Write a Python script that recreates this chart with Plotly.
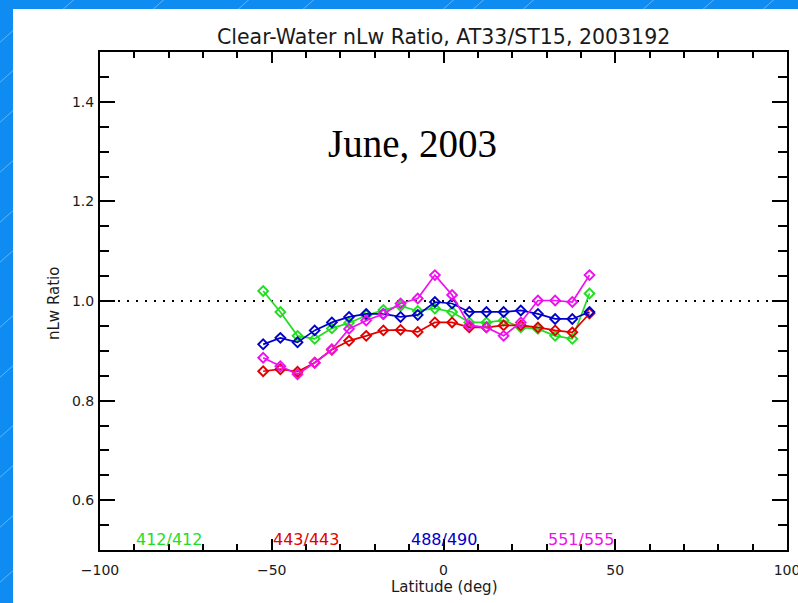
import plotly.graph_objects as go

# ---- data -------------------------------------------------------------
latitude = [-52.5, -47.5, -42.5, -37.5, -32.5, -27.5, -22.5, -17.5, -12.5, -7.5,
            -2.5, 2.5, 7.5, 12.5, 17.5, 22.5, 27.5, 32.5, 37.5, 42.5]

ratio_412 = [1.020, 0.978, 0.930, 0.924, 0.945, 0.956, 0.971, 0.982, 0.990, 0.980,
             0.985, 0.978, 0.957, 0.957, 0.961, 0.947, 0.944, 0.930, 0.924, 1.015]
ratio_443 = [0.859, 0.863, 0.858, 0.876, 0.902, 0.920, 0.930, 0.941, 0.942, 0.938,
             0.957, 0.957, 0.947, 0.947, 0.951, 0.951, 0.947, 0.941, 0.937, 0.975]
ratio_488 = [0.913, 0.926, 0.917, 0.941, 0.957, 0.968, 0.974, 0.974, 0.968, 0.972,
             0.998, 0.995, 0.978, 0.978, 0.978, 0.981, 0.974, 0.964, 0.964, 0.978]
ratio_551 = [0.886, 0.869, 0.853, 0.876, 0.903, 0.944, 0.961, 0.974, 0.995, 1.005,
             1.052, 1.012, 0.951, 0.947, 0.930, 0.957, 1.001, 1.001, 0.998, 1.052]

band_labels = ["412/412", "443/443", "488/490", "551/555"]
band_colors = ["#22dd22", "#e00000", "#0000c8", "#ee11ee"]
label_lat = [-80, -40, 0, 40]
label_ratio = 0.522

x_range = [-100, 100]
y_range = [0.5, 1.5]
reference_ratio = 1.0

title_text = "Clear-Water nLw Ratio, AT33/ST15, 2003192"
note_text = "June, 2003"
note_pos = (-9, 1.316)

# ---- page geometry (pixels) ------------------------------------------
W, H = 798, 603
PL, PR, PT, PB = 100, 787, 52, 550


def px(x):
    return (x - PL) / (PR - PL)


def py(y):
    return (PB - y) / (PB - PT)


series = [ratio_412, ratio_443, ratio_488, ratio_551]

fig = go.Figure()

# dotted unity line
fig.add_trace(go.Scatter(
    x=x_range, y=[reference_ratio, reference_ratio], mode="lines",
    line=dict(color="black", width=2, dash="2px,7px"),
    hoverinfo="skip", showlegend=False))

for vals, name, col in zip(series, band_labels, band_colors):
    fig.add_trace(go.Scatter(
        x=latitude, y=vals, mode="lines+markers", name=name,
        line=dict(color=col, width=1.7),
        marker=dict(symbol="diamond-open", size=7.5, color=col,
                    line=dict(color=col, width=1.9)),
        showlegend=False))

# slide background: blue with faint diagonal streaks, white page on top
shapes = []
streaks = [(-20, 60), (-20, 100), (-20, 140), (-20, 190), (-20, 240), (-20, 280),
           (-20, 345), (-20, 395), (-20, 455), (-20, 495), (-20, 545), (-20, 600),
           (60, 12), (150, 12), (235, 12), (300, 12), (440, 12), (470, 12),
           (520, 12), (640, 12), (700, 12), (760, 12)]
for sx, sy in streaks:
    shapes.append(dict(type="line", xref="paper", yref="paper",
                       x0=px(sx), y0=py(sy), x1=px(sx + 45), y1=py(sy - 40),
                       line=dict(color="rgba(200,230,255,0.45)", width=1),
                       layer="below"))
shapes.append(dict(type="rect", xref="paper", yref="paper",
                   x0=px(13), y0=py(H + 5), x1=px(W + 5), y1=py(9),
                   fillcolor="white", line=dict(width=0), layer="below"))

annotations = [
    dict(text=title_text, xref="paper", yref="paper", x=0.5, y=py(37),
         xanchor="center", yanchor="middle", showarrow=False,
         font=dict(family="DejaVu Sans", size=20.5, color="#1a1a1a")),
    dict(text="Latitude (deg)", xref="paper", yref="paper", x=0.5, y=py(587),
         xanchor="center", yanchor="middle", showarrow=False,
         font=dict(family="DejaVu Sans", size=15, color="#1a1a1a")),
    dict(text="nLw Ratio", xref="paper", yref="paper", x=px(54), y=py(304),
         xanchor="center", yanchor="middle", showarrow=False, textangle=-90,
         font=dict(family="DejaVu Sans", size=15, color="#1a1a1a")),
    dict(text=note_text, xref="x", yref="y", x=note_pos[0], y=note_pos[1],
         xanchor="center", yanchor="middle", showarrow=False,
         font=dict(family="Liberation Serif", size=39, color="black")),
]
for name, col, lat in zip(band_labels, band_colors, label_lat):
    annotations.append(dict(text=name, xref="x", yref="y", x=lat, y=label_ratio,
                            xanchor="center", yanchor="middle", showarrow=False,
                            font=dict(family="DejaVu Sans", size=16, color=col)))

axis_common = dict(showgrid=False, zeroline=False, showline=True,
                   linecolor="black", linewidth=2, ticks="inside",
                   tickcolor="black", tickwidth=2, mirror="allticks",
                   tickfont=dict(family="DejaVu Sans", size=14, color="#1a1a1a"),
                   ticklabeloverflow="allow",
                   automargin=False, fixedrange=True)

fig.update_layout(
    width=W, height=H,
    margin=dict(l=PL, r=W - PR, t=PT, b=H - PB),
    paper_bgcolor="#0e8cf2", plot_bgcolor="white",
    xaxis=dict(range=x_range, tick0=-100, dtick=50, ticklen=11,
               ticklabelstandoff=6,
               minor=dict(dtick=10, ticks="inside", ticklen=6,
                          tickcolor="black", tickwidth=2),
               **axis_common),
    yaxis=dict(range=y_range, tick0=0, dtick=0.2, tickformat=".1f", ticklen=15,
               ticklabelstandoff=1,
               minor=dict(dtick=0.05, ticks="inside", ticklen=9,
                          tickcolor="black", tickwidth=2),
               **axis_common),
    shapes=shapes, annotations=annotations, showlegend=False,
)

fig.write_html("out.html")
